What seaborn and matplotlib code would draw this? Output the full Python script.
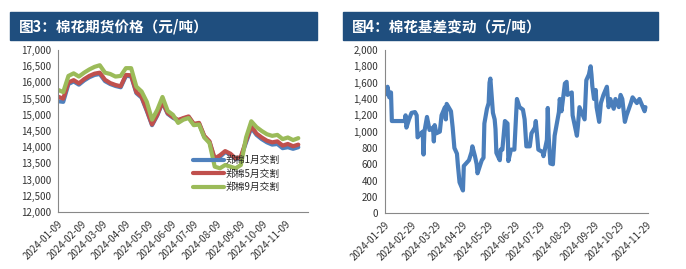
import matplotlib
matplotlib.use("Agg")
import matplotlib.pyplot as plt
from matplotlib.patches import Rectangle
from matplotlib.ticker import FuncFormatter
import pandas as pd
import seaborn as sns

sns.set_style("white")
plt.rcParams['font.family'] = ['Noto Sans CJK SC', 'DejaVu Sans']

# ---------------- data: left chart (cotton futures, weekly readings) ----------------
price_dates = ["2024-01-09", "2024-01-16", "2024-01-23", "2024-01-30", "2024-02-06", "2024-02-13",
               "2024-02-20", "2024-02-27", "2024-03-05", "2024-03-12", "2024-03-19", "2024-03-26",
               "2024-04-02", "2024-04-09", "2024-04-16", "2024-04-23", "2024-04-30", "2024-05-07",
               "2024-05-14", "2024-05-21", "2024-05-28", "2024-06-04", "2024-06-11", "2024-06-18",
               "2024-06-25", "2024-07-02", "2024-07-09", "2024-07-16", "2024-07-23", "2024-07-30",
               "2024-08-06", "2024-08-13", "2024-08-20", "2024-08-27", "2024-09-03", "2024-09-10",
               "2024-09-17", "2024-09-24", "2024-10-01", "2024-10-08", "2024-10-15", "2024-10-22",
               "2024-10-29", "2024-11-05", "2024-11-12", "2024-11-19", "2024-11-26"]
jan_contract = [15420, 15400, 15950, 16030, 15930, 16060, 16160, 16230, 16260, 16040, 15950, 15890,
                15850, 16200, 16190, 15670, 15530, 15120, 14680, 14980, 15380, 15030, 14910, 14820,
                14880, 14930, 14700, 14730, 14330, 14160, 13620, 13700, 13850, 13780, 13630, 13680,
                14150, 14600, 14380, 14250, 14150, 14080, 14100, 13970, 14000, 13950, 14000]
may_contract = [15560, 15500, 16000, 16070, 15970, 16100, 16200, 16270, 16300, 16080, 15980, 15920,
                15880, 16230, 16220, 15700, 15560, 15150, 14700, 15000, 15400, 15050, 14930, 14840,
                14900, 14950, 14720, 14750, 14350, 14180, 13650, 13750, 13880, 13800, 13650, 13700,
                14200, 14650, 14420, 14300, 14200, 14150, 14180, 14050, 14100, 14030, 14080]
sep_contract = [15770, 15700, 16200, 16280, 16180, 16300, 16400, 16480, 16530, 16300, 16260, 16180,
                16200, 16440, 16440, 15870, 15720, 15400, 14850, 15150, 15550, 15120, 15000, 14750,
                14850, 14900, 14680, 14700, 14300, 14130, 13400, 13350, 13450, 13400, 13350, 13450,
                14300, 14800, 14620, 14500, 14400, 14350, 14380, 14250, 14300, 14220, 14280]
price_labels = ["郑棉1月交割", "郑棉5月交割", "郑棉9月交割"]
price_colors = ["#4F81BD", "#C0504D", "#9BBB59"]
left_ticks = ["2024-01-09", "2024-02-09", "2024-03-09", "2024-04-09", "2024-05-09", "2024-06-09",
              "2024-07-09", "2024-08-09", "2024-09-09", "2024-10-09", "2024-11-09"]

# ---------------- data: right chart (basis) ----------------
basis_dates = ["2024-01-29", "2024-01-30", "2024-02-01", "2024-02-03", "2024-02-05", "2024-02-06",
               "2024-02-21", "2024-02-22", "2024-02-23", "2024-02-26", "2024-02-29", "2024-03-04",
               "2024-03-06", "2024-03-07", "2024-03-11", "2024-03-13", "2024-03-14", "2024-03-15",
               "2024-03-18", "2024-03-21", "2024-03-25", "2024-03-26", "2024-03-27", "2024-03-29",
               "2024-04-02", "2024-04-04", "2024-04-08", "2024-04-09", "2024-04-10", "2024-04-15",
               "2024-04-17", "2024-04-19", "2024-04-22", "2024-04-23", "2024-04-25", "2024-04-29",
               "2024-04-30", "2024-05-06", "2024-05-09", "2024-05-10", "2024-05-13", "2024-05-15",
               "2024-05-16", "2024-05-20", "2024-05-21", "2024-05-23", "2024-05-24", "2024-05-27",
               "2024-05-29", "2024-05-30", "2024-05-31", "2024-06-03", "2024-06-05", "2024-06-06",
               "2024-06-07", "2024-06-11", "2024-06-12", "2024-06-14", "2024-06-17", "2024-06-20",
               "2024-06-21", "2024-06-24", "2024-06-28", "2024-07-01", "2024-07-04", "2024-07-08",
               "2024-07-10", "2024-07-12", "2024-07-16", "2024-07-18", "2024-07-22", "2024-07-23",
               "2024-07-25", "2024-07-26", "2024-07-31", "2024-08-01", "2024-08-05", "2024-08-06",
               "2024-08-07", "2024-08-09", "2024-08-12", "2024-08-14", "2024-08-19", "2024-08-20",
               "2024-08-22", "2024-08-26", "2024-08-28", "2024-08-29", "2024-09-03", "2024-09-04",
               "2024-09-06", "2024-09-09", "2024-09-10", "2024-09-12", "2024-09-18", "2024-09-20",
               "2024-09-23", "2024-09-25", "2024-09-26", "2024-09-27", "2024-09-29", "2024-10-01",
               "2024-10-02", "2024-10-05", "2024-10-07", "2024-10-10", "2024-10-14", "2024-10-16",
               "2024-10-18", "2024-10-22", "2024-10-24", "2024-10-28", "2024-10-30", "2024-11-01",
               "2024-11-04", "2024-11-06", "2024-11-11", "2024-11-13", "2024-11-18", "2024-11-21",
               "2024-11-25", "2024-11-27", "2024-11-28"]
basis_values = [1450, 1500, 1550, 1420, 1480, 1130,
                1130, 1200, 1050, 1150, 1230, 1240,
                1200, 930, 980, 1000, 720, 1000,
                1180, 1020, 1050, 880, 1080, 980,
                1000, 1200, 1300, 1150, 1340, 1250,
                1050, 800, 730, 600, 380, 280,
                580, 650, 750, 820, 700, 600,
                490, 620, 650, 680, 1100, 1280,
                1350, 1600, 1650, 1230, 1150, 1030,
                740, 650, 780, 780, 1130, 1100,
                640, 780, 780, 1400, 1300, 1270,
                1150, 820, 820, 980, 1050, 1130,
                900, 780, 750, 700, 900, 1290,
                950, 610, 600, 950, 1240, 1400,
                1250, 1590, 1610, 1450, 1480, 1200,
                1100, 950, 1050, 1300, 1150, 1630,
                1700, 1800, 1700, 1560, 1400, 1510,
                1300, 1120, 1350, 1450, 1550, 1300,
                1400, 1280, 1400, 1300, 1450, 1400,
                1120, 1200, 1350, 1420, 1350, 1400,
                1300, 1250, 1300]
right_ticks = ["2024-01-29", "2024-02-29", "2024-03-29", "2024-04-29", "2024-05-29", "2024-06-29",
               "2024-07-29", "2024-08-29", "2024-09-29", "2024-10-29", "2024-11-29"]

titles = ["图3：棉花期货价格（元/吨）", "图4：棉花基差变动（元/吨）"]

# ---------------- figure ----------------
W, H = 686, 269
fig = plt.figure(figsize=(W / 100, H / 100), dpi=100)

def fx(px):
    return px / W

def fy(py):
    return 1 - py / H

bar_color = "#1F4E7E"
for (x0, x1), t in zip([(10, 317), (343, 658)], titles):
    fig.patches.append(Rectangle((fx(x0), fy(40)), fx(x1 - x0), (40 - 12) / H,
                                 transform=fig.transFigure, color=bar_color, zorder=0))
    fig.text(fx(x0 + 9), fy(26), t, color="white", fontsize=10.5, fontweight="bold",
             va="center", ha="left")

axL = fig.add_axes([fx(58), fy(212), fx(308 - 58), (212 - 50) / H])
axR = fig.add_axes([fx(385), fy(213.3), fx(648 - 385), (213.3 - 50) / H])

dfp = pd.DataFrame({"date": pd.to_datetime(price_dates)})
for vals, lab, col in zip([jan_contract, may_contract, sep_contract], price_labels, price_colors):
    sns.lineplot(x=dfp["date"], y=vals, ax=axL, color=col, linewidth=3.0, label=lab)

dfb = pd.DataFrame({"date": pd.to_datetime(basis_dates), "basis": basis_values})
sns.lineplot(data=dfb, x="date", y="basis", ax=axR, color="#4A7EBB", linewidth=3.0)

fmt = FuncFormatter(lambda v, p: f"{int(v):,}")
for ax, ticks, lo, hi, step, xend in [
        (axL, left_ticks, 12000, 17000, 500, "2024-12-09"),
        (axR, right_ticks, 0, 2000, 200, "2024-12-01")]:
    ax.set_ylim(lo, hi)
    ax.set_yticks(range(lo, hi + 1, step))
    ax.yaxis.set_major_formatter(fmt)
    tk = pd.to_datetime(ticks)
    ax.set_xlim(tk[0], pd.to_datetime(xend))
    ax.set_xticks(tk)
    ax.set_xticklabels(ticks, rotation=45, ha="right", rotation_mode="anchor")
    ax.set_xlabel("")
    ax.set_ylabel("")
    for s in ["top", "right"]:
        ax.spines[s].set_visible(False)
    for s in ["left", "bottom"]:
        ax.spines[s].set_color("#888888")
        ax.spines[s].set_linewidth(0.8)
    ax.tick_params(axis="both", labelsize=7, colors="#333333", length=3, width=0.8,
                   direction="out", pad=2)
    ax.tick_params(axis="both", color="#888888")
    ax.set_facecolor("none")

leg = axL.legend(loc="upper left", bbox_to_anchor=(0.52, 0.38), frameon=False, fontsize=7,
                 handlelength=3.2, handletextpad=0.2, labelspacing=0.35, borderpad=0)

fig.savefig("out.png", dpi=100)
